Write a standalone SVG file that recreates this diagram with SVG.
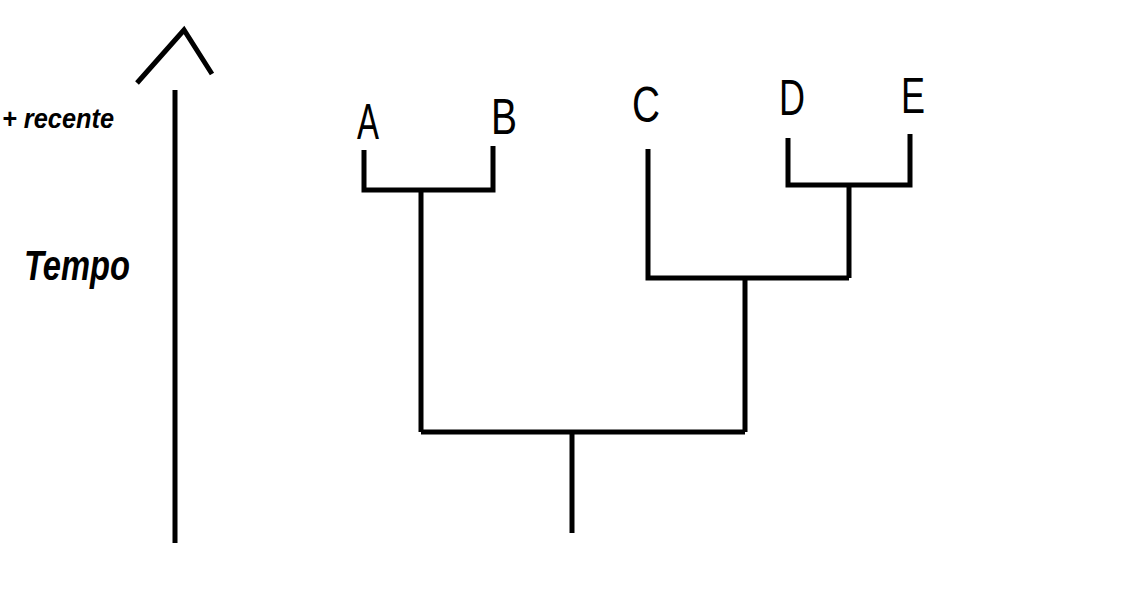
<svg xmlns="http://www.w3.org/2000/svg" width="1138" height="613" viewBox="0 0 1138 613">
<style>
.ln{stroke:#000;stroke-width:5;fill:none;stroke-linecap:butt;stroke-linejoin:miter}
.lb{font-family:"Liberation Sans",Arial,sans-serif;font-size:50px;fill:#000;text-anchor:middle}
.ax{font-family:"Liberation Sans",Arial,sans-serif;fill:#000;font-style:italic;font-weight:bold}
</style>
<rect width="1138" height="613" fill="#fff"/>
<g id="axis">
<line class="ln" x1="175" y1="90" x2="175" y2="543"/>
<polyline class="ln" points="137,83 184,30 212,74"/>
<text class="ax" x="2" y="128" font-size="28" textLength="112" lengthAdjust="spacingAndGlyphs">+ recente</text>
<text class="ax" x="24" y="280" font-size="42" textLength="106" lengthAdjust="spacingAndGlyphs">Tempo</text>
</g>
<g id="connectors">
<polyline class="ln" points="364,150 364,190 493,190 493,146"/>
<line class="ln" x1="421" y1="190" x2="421" y2="432"/>
<polyline class="ln" points="788,138 788,185 910,185 910,134"/>
<line class="ln" x1="849" y1="185" x2="849" y2="278"/>
<polyline class="ln" points="648,149 648,278 849,278"/>
<line class="ln" x1="745" y1="278" x2="745" y2="432"/>
<line class="ln" x1="421" y1="432" x2="745" y2="432"/>
<line class="ln" x1="572" y1="432" x2="572" y2="533"/>
</g>
<g id="A"><text class="lb" x="368" y="139" textLength="22" lengthAdjust="spacingAndGlyphs">A</text></g>
<g id="B"><text class="lb" x="504" y="134" textLength="26" lengthAdjust="spacingAndGlyphs">B</text></g>
<g id="C"><text class="lb" x="646" y="122" textLength="28" lengthAdjust="spacingAndGlyphs">C</text></g>
<g id="D"><text class="lb" x="792" y="115" textLength="26" lengthAdjust="spacingAndGlyphs">D</text></g>
<g id="E"><text class="lb" x="913" y="113" textLength="24" lengthAdjust="spacingAndGlyphs">E</text></g>
</svg>
